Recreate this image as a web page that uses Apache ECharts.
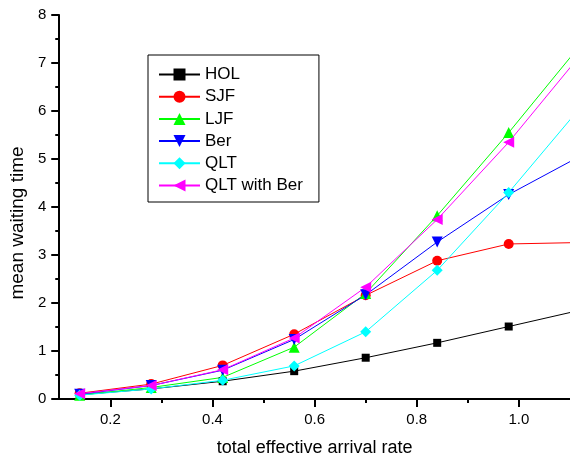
<!DOCTYPE html>
<html>
<head>
<meta charset="utf-8">
<script src="https://cdn.jsdelivr.net/npm/echarts@6/dist/echarts.min.js"></script>
<style>
  html, body { margin: 0; padding: 0; background: #fff; }
  #chart { width: 570px; height: 463px; }
</style>
</head>
<body>
<div id="chart"></div>
<script>
// arrival rates at which the waiting time was measured
const arrivalRate = [0.14, 0.28, 0.42, 0.56, 0.70, 0.84, 0.98, 1.12];

// mean waiting time per scheduling policy
const hol     = [0.09, 0.21, 0.37, 0.58, 0.86, 1.17, 1.51, 1.85];
const sjf     = [0.12, 0.31, 0.70, 1.35, 2.16, 2.88, 3.23, 3.26];
const ljf     = [0.08, 0.24, 0.45, 1.08, 2.20, 3.82, 5.55, 7.37];
const ber     = [0.10, 0.28, 0.60, 1.24, 2.17, 3.27, 4.26, 5.06];
const qlt     = [0.08, 0.21, 0.39, 0.69, 1.40, 2.68, 4.30, 6.07];
const qltBer  = [0.11, 0.28, 0.61, 1.27, 2.33, 3.74, 5.35, 7.16];

// axis ticks
const xMajorTicks = [0.2, 0.4, 0.6, 0.8, 1.0];
const xMinorTicks = [0.3, 0.5, 0.7, 0.9];

const FONT = '"Liberation Sans", Arial, sans-serif';

function pairs(ys) {
  return arrivalRate.map((x, i) => [x, ys[i]]);
}

function makeSeries(name, ys, color, symbol, size, rotate) {
  return {
    name: name,
    type: 'line',
    data: pairs(ys),
    symbol: symbol,
    symbolSize: size,
    symbolRotate: rotate || 0,
    lineStyle: { color: color, width: 1 },
    itemStyle: { color: color, borderWidth: 0 },
    emphasis: { disabled: true },
    animation: false,
    clip: true
  };
}

const chart = echarts.init(document.getElementById('chart'), null, { renderer: 'canvas' });

chart.setOption({
  backgroundColor: '#ffffff',
  animation: false,
  grid: { left: 58, top: 15, width: 515, height: 384, containLabel: false },
  legend: {
    orient: 'vertical',
    left: 148,
    top: 55,
    padding: [11, 16, 8, 10],
    itemGap: 5.2,
    itemWidth: 41,
    itemHeight: 15,
    borderColor: '#000',
    borderWidth: 1,
    backgroundColor: '#fff',
    textStyle: { fontFamily: FONT, fontSize: 17, color: '#000' },
    data: ['HOL', 'SJF', 'LJF', 'Ber', 'QLT', 'QLT with Ber']
  },
  xAxis: [
    {
      type: 'value',
      min: 0.1,
      max: 1.1,
      name: 'total effective arrival rate',
      nameLocation: 'middle',
      nameGap: 40,
      nameTextStyle: { fontFamily: FONT, fontSize: 18, color: '#000' },
      axisLine: { show: true, lineStyle: { color: '#000', width: 2 } },
      axisTick: { show: true, length: 8, lineStyle: { color: '#000', width: 2 }, customValues: xMajorTicks },
      axisLabel: {
        fontFamily: FONT, fontSize: 15, color: '#000', margin: 13,
        customValues: xMajorTicks,
        formatter: v => v.toFixed(1)
      },
      splitLine: { show: false }
    },
    {
      type: 'value',
      position: 'bottom',
      min: 0.1,
      max: 1.1,
      axisLine: { show: false },
      axisTick: { show: true, length: 4, lineStyle: { color: '#000', width: 2 }, customValues: xMinorTicks },
      axisLabel: { show: false, customValues: xMinorTicks },
      splitLine: { show: false }
    }
  ],
  yAxis: {
    type: 'value',
    min: 0,
    max: 8,
    interval: 1,
    name: 'mean waiting time',
    nameLocation: 'middle',
    nameGap: 28,
    nameTextStyle: { fontFamily: FONT, fontSize: 19, color: '#000', padding: [0, 32, 0, 0] },
    axisLine: { show: true, lineStyle: { color: '#000', width: 2 } },
    axisTick: { show: true, length: 8, lineStyle: { color: '#000', width: 2 } },
    minorTick: { show: true, splitNumber: 2, length: 4, lineStyle: { color: '#000', width: 2 } },
    axisLabel: { fontFamily: FONT, fontSize: 15, color: '#000', margin: 13 },
    splitLine: { show: false },
    minorSplitLine: { show: false }
  },
  series: [
    makeSeries('HOL', hol, '#000000', 'rect', 8),
    makeSeries('SJF', sjf, '#ff0000', 'circle', 10),
    makeSeries('LJF', ljf, '#00ff00', 'triangle', 11),
    makeSeries('Ber', ber, '#0000ff', 'triangle', 11, 180),
    makeSeries('QLT', qlt, '#00ffff', 'diamond', 11),
    makeSeries('QLT with Ber', qltBer, '#ff00ff', 'triangle', 11, 90)
  ]
});
</script>
</body>
</html>
